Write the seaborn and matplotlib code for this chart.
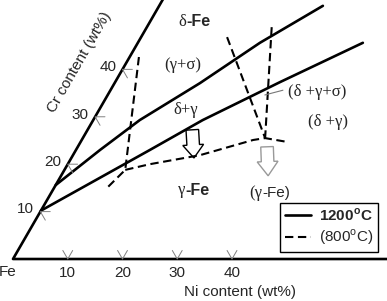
import numpy as np
import pandas as pd
import matplotlib.pyplot as plt
import seaborn as sns
from matplotlib.patches import FancyArrow
from matplotlib.lines import Line2D

sns.set_style('white')
plt.rcParams['font.family'] = ['Liberation Sans', 'DejaVu Sans']
plt.rcParams['mathtext.fontset'] = 'custom'
plt.rcParams['mathtext.rm'] = 'Liberation Sans'

# 조성 (Ni wt%, Cr wt%) - 1200C 경계
up_ni = [0, 4.4, 8.5, 15.6, 22.3, 29.9]
up_cr = [15.6, 23.0, 29.3, 37.1, 45.6, 53.4]
low_ni = [0, 13.5, 20.0, 30.1, 41.1]
low_cr = [10.2, 23.0, 29.3, 37.3, 45.6]

# 800C 경계 (점선)
d1_ni = [1.7, 11.1, 9.75]
d1_cr = [42.6, 18.8, 15.2]
d2_ni = [11.1, 15.0, 23.2, 31.3, 33.3, 37.7]
d2_cr = [18.8, 20.0, 21.9, 25.1, 25.5, 24.7]
d3_ni = [15.7, 33.3]
d3_cr = [46.8, 25.5]
d4_ni = [22.8, 33.3]
d4_cr = [48.9, 25.5]

# 축 (삼각 좌표의 두 변)
edge_ni = [0, 0, 70]
edge_cr = [56, 0, 0]
ni_ticks = [10, 20, 30, 40]
cr_ticks = [10, 20, 30, 40]
lead_ni = [28.7, 31.5]
lead_cr = [34.6, 35.6]


def tern(ni, cr):
    ni = np.asarray(ni, dtype=float)
    cr = np.asarray(cr, dtype=float)
    return ni + cr / 2, cr * np.sqrt(3) / 2


fig = plt.figure(figsize=(3.87, 3.01), dpi=100)
ax = fig.add_axes([0, 0, 1, 1])

solid = dict(color='black', lw=1.9, sort=False, estimator=None, ax=ax)
dash = dict(color='black', lw=1.5, sort=False, estimator=None, ax=ax,
            linestyle=(0, (4, 2.2)))

x, y = tern(edge_ni, edge_cr)
sns.lineplot(x=x, y=y, **solid)
for ni, cr in [(up_ni, up_cr), (low_ni, low_cr)]:
    x, y = tern(ni, cr)
    sns.lineplot(x=x, y=y, **solid)
for ni, cr in [(d1_ni, d1_cr), (d2_ni, d2_cr), (d3_ni, d3_cr), (d4_ni, d4_cr)]:
    x, y = tern(ni, cr)
    sns.lineplot(x=x, y=y, **dash)
x, y = tern(lead_ni, lead_cr)
ax.plot(x, y, color='#777777', lw=0.8)

# 눈금 (V 모양)
L = 1.8
s3 = np.sqrt(3) / 2
for t in ni_ticks:
    x0, y0 = tern(t, 0)
    ax.plot([x0 - 0.5 * L, x0, x0 + 0.5 * L], [y0 + s3 * L, y0, y0 + s3 * L],
            color='#808080', lw=0.7)
    ax.text(x0, -2.6, str(t), ha='center', va='center', fontsize=11)
for t in cr_ticks:
    x0, y0 = tern(0, t)
    ax.plot([x0 + L, x0, x0 + 0.5 * L], [y0, y0, y0 - s3 * L],
            color='#808080', lw=0.7)
    ax.text(x0 - 2.7, y0 + 0.4, str(t), ha='center', va='center', fontsize=11)
ax.text(-0.9, -2.4, 'Fe', ha='center', va='center', fontsize=11)

ax.text(41.5, -6.0, 'Ni content (wt%)', ha='center', va='center', fontsize=11)
ax.text(12.2, 35.9, 'Cr content (wt%)', ha='center', va='center', fontsize=11,
        rotation=60, rotation_mode='anchor')

serif = 'Liberation Serif'
ax.text(31.6, 43.3, 'δ', ha='right', va='center', fontsize=12, family=serif)
ax.text(31.6, 43.3, '-Fe', ha='left', va='center', fontsize=11.5, weight='bold')
ax.text(31.4, 12.6, 'γ', ha='right', va='center', fontsize=12, family=serif)
ax.text(31.4, 12.6, '-Fe', ha='left', va='center', fontsize=11.5, weight='bold')
ax.text(45.5, 12.05, '(γ', ha='right', va='center', fontsize=12, family=serif)
ax.text(45.5, 12.05, '-Fe)', ha='left', va='center', fontsize=11)
ax.text(31.05, 35.4, '(γ+σ)', ha='center', va='center', fontsize=12, family=serif)
ax.text(31.6, 27.2, 'δ+γ', ha='center', va='center', fontsize=12, family=serif)
ax.text(55.5, 30.5, '(δ +γ+σ)', ha='center', va='center', fontsize=12, family=serif)
ax.text(57.5, 25.0, '(δ +γ)', ha='center', va='center', fontsize=12, family=serif)

# 화살표
ax.add_patch(FancyArrow(32.75, 23.6, 0.3, -5.15, width=2.3, head_width=3.8,
                        head_length=2.4, length_includes_head=True,
                        fc='white', ec='black', lw=1.0))
ax.add_patch(FancyArrow(46.4, 20.5, 0.2, -5.3, width=2.3, head_width=3.8,
                        head_length=2.6, length_includes_head=True,
                        fc='white', ec='#999999', lw=1.0))

handles = [Line2D([], [], color='black', lw=1.9),
           Line2D([], [], color='black', lw=1.5, linestyle=(0, (4, 2.2)))]
leg = ax.legend(handles, [r'1200$^\mathregular{o}$C', r'(800$^\mathregular{o}$C)'],
                loc='lower right', bbox_to_anchor=(0.977, 0.163),
                borderaxespad=0, fontsize=11, fancybox=False, framealpha=1,
                edgecolor='black', handlelength=1.7, labelspacing=0.25,
                borderpad=0.3, handletextpad=0.55)
leg.get_frame().set_linewidth(1.0)
leg.get_texts()[0].set_fontweight('bold')

ax.set_xlim(-2.374, 68.31)
ax.set_ylim(-7.67, 47.31)
ax.axis('off')
fig.savefig('out.png', dpi=100)
